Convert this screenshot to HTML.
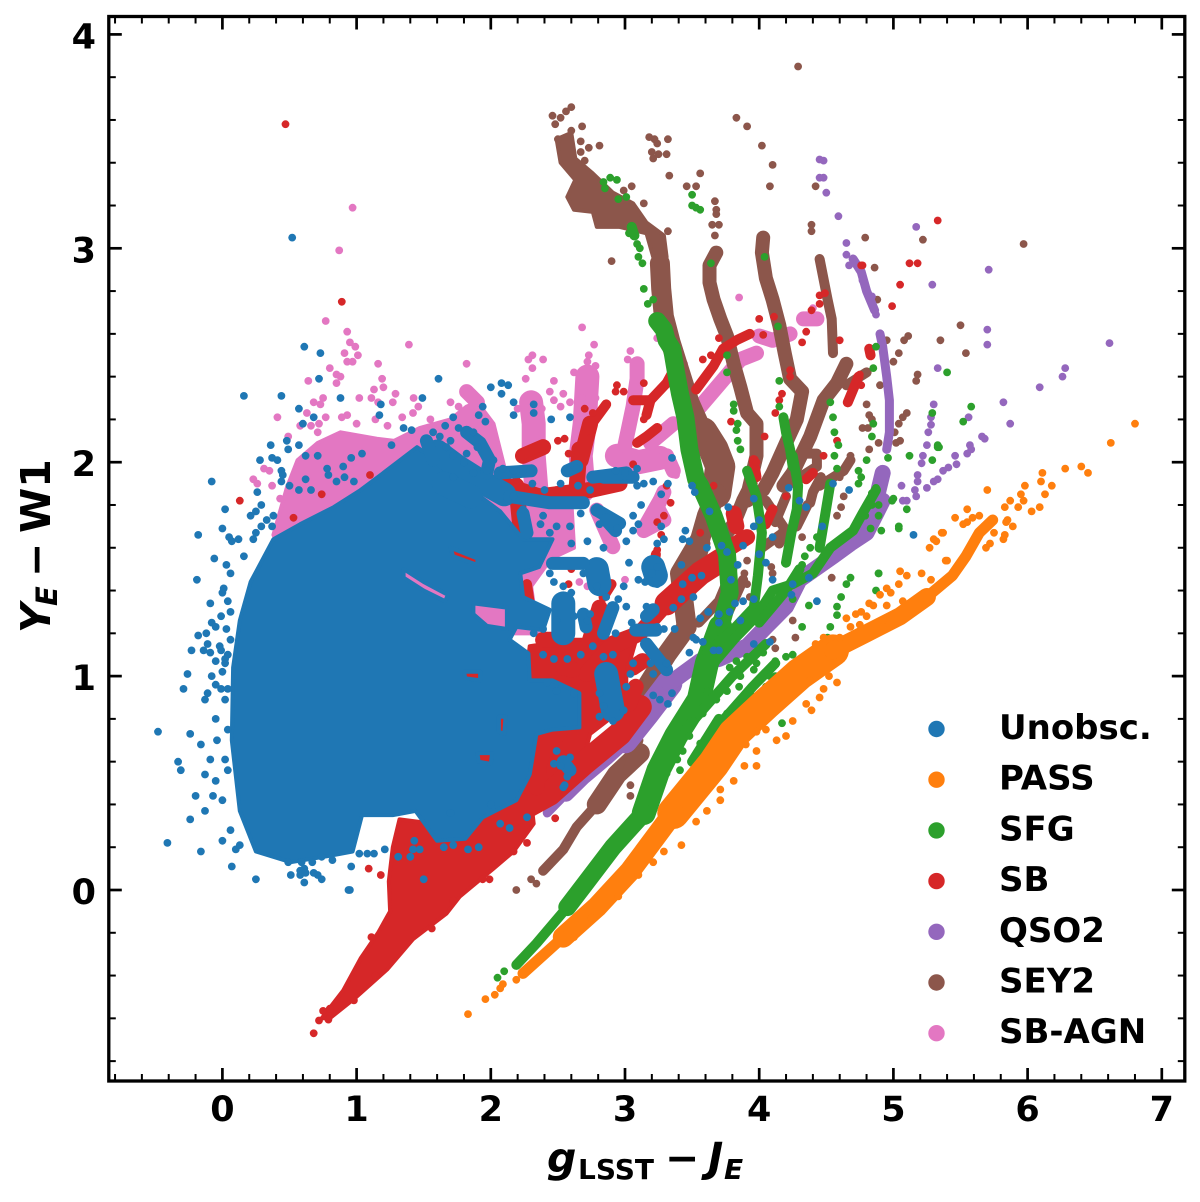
<!DOCTYPE html>
<html>
<head>
<meta charset="utf-8">
<title>g-J vs Y-W1 colour-colour diagram</title>
<style>
html,body{margin:0;padding:0;background:#fff;}
svg{display:block;}
text{font-family:"DejaVu Sans",sans-serif;font-weight:bold;fill:#000;}
</style>
</head>
<body>
<svg id="chart" xmlns="http://www.w3.org/2000/svg" width="1200" height="1202" viewBox="0 0 1200 1202">
<rect width="1200" height="1202" fill="#fff"/>
<g id="marks"></g>
<rect x="108.8" y="16.5" width="1076" height="1064.5" fill="none" stroke="#000" stroke-width="3.3"/>
<g id="ticks"></g>
<text y="1172" font-size="41"><tspan x="547" font-style="italic">g</tspan><tspan x="578" y="1179" font-size="28">LSST</tspan><tspan x="665" y="1172">−</tspan><tspan x="708" font-style="italic">J</tspan><tspan x="724" y="1179" font-size="28" font-style="italic">E</tspan></text>
<text transform="translate(50,633) rotate(-90)" font-size="41"><tspan x="0" y="0" font-style="italic">Y</tspan><tspan x="27" y="7" font-size="29" font-style="italic">E</tspan><tspan x="56" y="0">−</tspan><tspan x="100" y="0">W1</tspan></text>
<g id="legend"></g>
</svg>
<script>
const legendLabels=["Unobsc.","PASS","SFG","SB","QSO2","SEY2","SB-AGN"];
const xTicks=[0,1,2,3,4,5,6,7];
const yTicks=[0,1,2,3,4];
const xMinorTicks=[-0.8,-0.6,-0.4,-0.2,0.2,0.4,0.6,0.8,1.2,1.4,1.6,1.8,2.2,2.4,2.6,2.8,3.2,3.4,3.6,3.8,4.2,4.4,4.6,4.8,5.2,5.4,5.6,5.8,6.2,6.4,6.6,6.8];
const yMinorTicks=[-0.8,-0.6,-0.4,-0.2,0.2,0.4,0.6,0.8,1.2,1.4,1.6,1.8,2.2,2.4,2.6,2.8,3.2,3.4,3.6,3.8];

/* SB-AGN */
const agnDense=[[[.38,1.66],[.48,1.88],[.56,2.01],[.71,2.09],[.88,2.14],[1.15,2.11],[1.28,2.1],[1.47,2.16],[1.7,2.2],[1.82,2.26],[1.9,2.28],[2.02,2.18],[2.1,1.98],[2.3,1.7],[2.3,1.2],[1.5,1.2],[.5,1.5]],
[[2.22,1.82],[2.6,1.82],[2.62,1.6],[2.45,1.55],[2.3,1.42],[2.35,1.2],[2.1,1.2]]];
const agnWide=[[[2.3,2.28],[2.32,2.18],[2.32,2.03],[2.34,1.87]],[[2.72,2.4],[2.7,2.18],[2.67,2.03],[2.69,1.87]],[[2.94,2.03],[3.1,2],[3.26,2.02]]];
const agnMid=[[[3.09,2.46],[3.09,2.39],[3.06,2.26],[3,2.08]],[[3.19,2.09],[3.36,2.18]],[[3.56,2.26],[3.71,2.37],[3.86,2.48],[3.98,2.51]],[[4,2.59],[4.1,2.57],[4.23,2.6]],[[3.29,1.86],[3.24,1.79],[3.29,1.73],[3.14,1.68]],[[3.31,2.03],[3.36,1.96]],[[1.82,2.33],[1.9,2.28]],[[2.79,1.776],[2.91,1.605]],[[3.16,1.71],[3.26,1.82]],[[4.33,2.67],[4.43,2.67]]];
const agnPoints=[[.97,3.19],[.87,2.99],[.77,2.66],[.93,2.61],[.95,2.56],[.99,2.54],[.91,2.51],[1.01,2.5],[.93,2.47],[.97,2.47],[1.39,2.55],[1.16,2.46],[.8,2.44],[.85,2.41],[.88,2.4],[.64,2.38],[.85,2.37],[1.19,2.39],[1.2,2.35],[1.13,2.34],[1.02,2.3],[1.29,2.32],[1.27,2.28],[1.11,2.3],[1.16,2.28],[.68,2.28],[.73,2.27],[.75,2.3],[1.425,2.3],[1.46,2.26],[1.42,2.23],[.41,2.21],[.63,2.23],[.77,2.21],[.93,2.22],[.89,2.21],[1.14,2.2],[1.34,2.21],[1.82,2.46],[1.81,2.33],[2.31,2.5],[2.28,2.48],[2.31,2.44],[2.39,2.48],[2.26,2.39],[2.47,2.38],[2.77,2.55],[2.73,2.5],[2.44,2.33],[2.54,2.32],[2.47,2.29],[2.52,2.26],[2.59,2.28],[.31,1.97],[.35,1.96],[.23,1.92],[.26,1.9],[.37,1.89],[.43,1.83],[.49,2.12],[.58,2.17],[.66,2.17],[.72,2.18],[.71,2.14],[1,2.18],[1.23,2.17],[2.68,2.63],[3.85,2.77],[3.24,2.58],[3.04,2.52],[3.02,2.48],[2.62,2.42],[4.15,2.69],[4.4,2.72],[4.42,2.68],[3.38,1.94],[3.34,2.4],[3.44,2.46],[3.38,2.5],[2.72,2.47],[2.78,2.45],[2.68,2.3],[2.78,2.3],[2.2,2.25],[2.38,2.25],[1.7,2.28],[1.76,2.26],[1.55,2.2],[2.66,1.44],[2.72,1.42],[2.85,1.5],[3,1.45]];

/* SEY2 */
const seyDense=[[[2.49,3.51],[2.6,3.54],[2.63,3.42],[2.76,3.35],[2.91,3.26],[3.06,3.21],[3.16,3.12],[3.29,3.06],[3.31,2.96],[3.21,2.96],[3.16,3.07],[2.96,3.1],[2.79,3.1],[2.76,3.17],[2.62,3.18],[2.57,3.24],[2.63,3.32],[2.52,3.4]]];
const seyWide=[[[3.58,2.14],[3.66,2.06],[3.71,1.98],[3.68,1.855]]];
const seyMain=[[[3.26,2.93],[3.27,2.81],[3.29,2.68],[3.34,2.56],[3.41,2.42],[3.48,2.28],[3.58,2.14]],[[3.68,1.855],[3.61,1.75],[3.56,1.64],[3.41,1.48],[3.46,1.23],[3.31,1.1],[3.16,.95]],[[3.11,.64],[2.94,.54],[2.79,.4]]];
const seyMid=[[[3.68,2.98],[3.63,2.92],[3.63,2.84],[3.66,2.76],[3.71,2.67],[3.76,2.59],[3.81,2.46],[3.86,2.35],[3.91,2.23],[3.98,2.18],[3.98,2.03],[3.92,1.87],[3.88,1.82],[3.81,1.71],[3.76,1.67]],[[4.03,3.05],[4.02,2.98],[4.05,2.86],[4.1,2.76],[4.15,2.64],[4.19,2.51],[4.23,2.39],[4.32,2.33],[4.28,2.2],[4.2,2.09],[4.1,1.95],[4.03,1.87],[3.91,1.82]],[[4.65,2.46],[4.58,2.37],[4.48,2.29],[4.38,2.12],[4.25,1.95],[4.18,1.89]]];
const seyThin=[[[4.45,2.95],[4.51,2.76],[4.54,2.67],[4.55,2.51]],[[4.8,2.42],[4.65,2.36]],[[4.68,2.01],[4.63,1.96],[4.45,1.89]],[[4.3,2.04],[4.43,2.04],[4.43,1.98],[4.23,1.9]],[[4.46,1.93],[4.4,1.86],[4.38,1.81]],[[4.18,1.68],[4.15,1.62]],[[2.79,.4],[2.64,.295],[2.54,.19],[2.39,.09]],[[3.8,1.5],[3.7,1.35],[3.55,1.25]],[[3.88,1.45],[3.7,1.2]],[[4.05,1.82],[4.2,1.68],[4.02,1.6]],[[4.2,1.84],[4.12,1.72]],[[4.36,1.8],[4.28,1.7]],[[3.6,1.62],[3.5,1.4]],[[3.1,.7],[3.02,.56]]];
const seyPoints=[[4.29,3.85],[2.6,3.66],[2.56,3.64],[2.52,3.61],[2.46,3.62],[2.48,3.58],[2.68,3.57],[2.6,3.55],[2.5,3.51],[2.67,3.5],[2.73,3.47],[2.81,3.48],[2.67,3.45],[2.7,3.41],[3.18,3.52],[3.22,3.51],[3.24,3.49],[3.32,3.51],[3.2,3.45],[3.25,3.44],[3.31,3.44],[3.21,3.42],[3.33,3.34],[3.56,3.35],[3.46,3.29],[3.53,3.29],[3.83,3.61],[3.91,3.57],[4.02,3.48],[4.1,3.39],[4.08,3.29],[4.42,3.29],[4.39,3.11],[4.39,3.08],[4.79,3.05],[4.86,2.91],[4.88,2.76],[2.9,2.94],[3.32,3.08],[3.14,3.21],[2.99,3.27],[3.05,3.29],[5.22,3.04],[5.97,3.02],[5.5,2.64],[5.11,2.59],[5.08,2.57],[5.35,2.57],[4.95,2.57],[5.54,2.51],[5.04,2.51],[5,2.47],[5.18,2.41],[5.17,2.38],[4.9,2.36],[4.8,2.27],[5.1,2.23],[5.07,2.21],[5.04,2.18],[4.82,2.22],[4.84,2.2],[4.77,2.16],[4.81,2.16],[5.01,2.14],[5.05,2.1],[5.02,2.09],[4.89,2.09],[4.82,2.06],[4.68,2.03],[4.64,1.97],[4.6,1.93],[4.48,1.92],[4.63,1.84],[4.61,1.79],[4.58,1.75],[4.32,1.65],[4.09,1.51],[4.1,1.48],[4.54,1.46],[3.91,1.54],[3.89,1.48],[3.91,1.43],[3.93,1.37],[4.25,1.26],[4.27,1.18],[4.1,1.17],[4.12,1.13],[2.34,.03],[2.3,.05],[2.19,0],[3.04,.49],[3.04,.44],[3.67,3.22],[3.68,3.18],[3.68,3.16],[3.65,3.11],[3.7,3.11],[3.67,3.06]];

/* QSO2 */
const qsoWide=[[[3.33,.965],[3.16,.825],[3,.7]]];
const qsoMid=[[[4.92,1.82],[4.8,1.67],[4.68,1.62],[4.55,1.56],[4.3,1.45],[4.2,1.325],[4.05,1.23],[3.91,1.14],[3.7,1.08],[3.56,1.07],[3.33,.965]],[[3,.7],[2.86,.62],[2.69,.53],[2.56,.45]],[[4.92,1.95],[4.87,1.82]]];
const qsoThin=[[[4.9,2.6],[4.92,2.54],[4.95,2.4],[4.97,2.29],[4.97,2.14],[4.95,2.06]],[[2.56,.45],[2.42,.36]],[[4.7,2.95],[4.76,2.89],[4.8,2.8],[4.86,2.71]]];
const qsoPoints=[[5.17,3.1],[5.71,2.9],[5.29,2.83],[5.7,2.62],[5.7,2.55],[6.61,2.557],[5.33,2.44],[6.28,2.44],[6.26,2.4],[6.09,2.35],[5.82,2.28],[5.3,2.27],[5.56,2.21],[5.87,2.18],[5.28,2.21],[5.28,2.175],[5.26,2.14],[5.66,2.12],[5.68,2.11],[5.25,2.08],[5.57,2.08],[5.58,2.06],[5.55,2.04],[5.46,2.03],[5.47,1.99],[5.41,1.975],[5.37,1.96],[5.22,2.03],[5.21,1.995],[5.18,1.94],[5.18,1.91],[5.06,1.89],[5.16,1.87],[5.17,1.84],[5.1,1.82],[5.07,1.82],[5.25,1.88],[5.3,1.91],[5.33,1.92],[4.45,3.415],[4.48,3.41],[4.45,3.33],[4.48,3.33],[4.5,3.26],[4.59,3.15],[4.65,3.025],[4.65,2.97],[4.67,2.92],[4.77,2.85],[4.84,2.775],[4.87,2.69]];

/* SB */
const sbDense=[[[.74,-.6],[.9,-.47],[1.03,-.32],[1.16,-.2],[1.25,-.1],[1.24,.04],[1.27,.2],[1.32,.33],[1.7,.3],[2.12,.42],[2.3,.42],[2.32,.31],[2.17,.18],[2.02,.1],[1.77,-.03],[1.67,-.11],[1.42,-.23],[1.23,-.37],[.98,-.51],[.8,-.6]],
[[2.29,1.14],[2.61,1.17],[2.86,1.17],[3.11,1.23],[3.01,1.01],[3.01,.86],[2.74,.73],[2.66,.54],[2.36,.42],[2.14,.4]]];
const sbWide=[[[2.12,.34],[2.44,.45],[2.69,.59],[2.96,.73],[3.11,.856]],[[3.31,1.34],[3.56,1.48],[3.71,1.54]]];
const sbMid=[[[2.71,1.01],[2.88,1.13],[3.11,1.2],[3.31,1.34]],[[2.34,.48],[2.36,.59],[2.41,.68],[2.51,.73]],[[3.06,1.04],[3.13,1.07]],[[3.03,.87],[3.08,.95]],[[2.39,1.17],[2.49,1.17]],[[2.54,1.04],[2.61,1.03]],[[2.81,1.32],[2.74,1.17]],[[3.78,1.6],[3.91,1.65]],[[3.81,1.76],[3.83,1.7]],[[2.07,1.9],[2.36,1.84],[2.74,1.87],[2.96,1.9]],[[2.66,2.06],[2.64,1.886]],[[2.74,2.18],[2.67,2.01]],[[2.24,2.03],[2.39,2.07]],[[1.8,1],[1.93,1]],[[2.08,.83],[2.08,.7]],[[1.89,.62],[2.02,.62]],[[1.7,1.59],[1.9,1.53]],[[2.19,1.89],[2.22,1.7]]];
const sbThin=[[[2.9,1.43],[2.84,1.37]],[[3.23,1.57],[3.21,1.48]],[[2.72,2.15],[2.86,2.27]],[[1.72,1.85],[1.85,1.88]],[[3.09,2.09],[3.16,2.12],[3.24,2.16]],[[3.06,2.29],[3.19,2.29],[3.16,2.22]],[[3.19,2.29],[3.31,2.37],[3.38,2.45]],[[3.53,2.34],[3.66,2.45],[3.73,2.53],[3.83,2.57],[3.93,2.6]],[[3.96,2.01],[3.98,1.93]],[[4.1,1.78],[4.05,1.71]],[[4.4,1.95],[4.35,1.92]],[[4.82,2.53],[4.83,2.5]],[[4.74,2.4],[4.66,2.28]],[[2.22,2.03],[2.39,2.08]],[[2.27,1.43],[2.3,1.3]]];
const sbPoints=[[.47,3.58],[.89,2.75],[.13,1.82],[1.1,1.94],[.74,1.85],[.53,1.74],[.68,-.67],[.72,-.61],[.79,-.606],[.75,-.565],[.8,-.555],[.98,-.516],[1.14,-.4],[1.11,-.22],[1.56,-.18],[1.72,-.05],[1.09,.1],[1.18,.07],[1.99,.05],[1.94,.05],[2.17,.18],[2.27,.22],[2.48,.335],[2.94,2.36],[2.93,2.33],[2.99,2.33],[2.76,2.23],[2.7,2.25],[2.5,2.1],[2.55,2.11],[2.58,2.04],[3.14,2.2],[3.14,2.37],[3.58,2.48],[3.64,2.5],[3.7,2.58],[4,2.67],[4.03,2.595],[4.11,2.68],[4.23,2.43],[4.23,2.4],[4.17,2.32],[4.15,2.29],[4.12,2.23],[3.79,2.19],[4.32,2.56],[4.35,2.61],[4.39,2.71],[4.45,2.78],[4.45,2.74],[4.49,2.79],[4.6,2.57],[4.76,2.92],[4.99,2.73],[5.05,2.83],[4.58,2.1],[4.48,2.03],[4.04,2.12],[3.98,2],[3.96,1.9],[5.33,3.13],[5.12,2.93],[5.18,2.93],[4.77,2.92],[4.75,2.41],[4.76,2.36],[3.24,1.59],[3.31,1.89],[3.29,1.75],[3.34,1.81],[3.56,1.67],[3.66,1.89],[4.2,1.84],[2.49,1.87],[2.81,1.86],[3.06,1.99],[2.19,1.92],[2.58,1.43],[2.6,1.5],[3.24,1.72],[3.27,1.66]];

/* SFG */
const sfgWide=[[[3.71,1.23],[3.61,1.06],[3.55,.89],[3.38,.72],[3.25,.56],[3.14,.36]]];
const sfgMid=[[[3.24,2.66],[3.29,2.62],[3.31,2.57],[3.35,2.53],[3.38,2.42],[3.41,2.32],[3.45,2.21],[3.48,2.06],[3.53,1.92],[3.56,1.89],[3.66,1.75],[3.76,1.57],[3.78,1.39],[3.71,1.23]],[[3.14,.36],[2.91,.2],[2.74,.06],[2.57,-.08]]];
const sfgThin=[[[2.57,-.08],[2.34,-.25],[2.19,-.35]],[[3.91,1.96],[3.98,1.84],[4.02,1.67],[3.99,1.47],[3.96,1.32],[3.81,1.22],[3.61,1.11]],[[4.25,2.03],[4.29,1.89],[4.28,1.78],[4.24,1.67],[4.2,1.53]],[[4.53,1.9],[4.49,1.75],[4.45,1.6]],[[4.87,1.87],[4.77,1.76],[4.7,1.68],[4.53,1.6],[4.4,1.48],[4.25,1.43],[4.1,1.4],[3.98,1.28],[3.81,1.17],[3.66,1.06]],[[4.18,2.21],[4.2,2.14],[4.23,2.06],[4.25,1.98]],[[3.05,3.1],[3.07,3.06]],[[3.45,.75],[3.8,1],[4.05,1.15]],[[3.6,.7],[3.95,.95],[4.12,1.06]],[[3.78,.78],[3.95,.9]],[[3.5,.6],[3.7,.8]],[[4,1.25],[4.2,1.4],[4.3,1.5]]];
const sfgPoints=[[2.89,3.33],[2.94,3.32],[2.84,3.31],[2.85,3.28],[2.95,3.23],[3.01,3.24],[3.03,3.07],[3.09,3.02],[3.11,3],[3.1,2.96],[3.13,2.93],[3.14,2.81],[3.21,2.76],[3.17,2.74],[3.5,3.25],[3.5,3.2],[3.53,3.19],[3.56,3.18],[3.81,2.27],[3.81,2.24],[3.84,2.18],[3.83,2.15],[3.84,2.1],[3.86,2.06],[4.43,1.65],[4.38,1.6],[4.34,1.56],[4.32,1.52],[4.29,1.48],[4.25,1.36],[4.37,1.33],[4.32,1.23],[4.53,1.23],[4.51,1.18],[4.58,1.325],[4.58,1.285],[4.61,1.37],[4.65,1.43],[4.68,1.46],[4.89,1.48],[5.04,1.7],[5.1,1.78],[5,1.83],[4.91,1.68],[4.96,2.02],[4.8,2.01],[4.58,1.97],[4.74,1.96],[4.76,1.93],[4.74,1.9],[4.56,2.03],[5.12,2.03],[5.29,2.01],[5.33,2.07],[5.29,2.23],[4.2,1.09],[4.25,1.1],[4.12,1.07],[4.03,1.11],[3.98,1.06],[3.96,1.03],[4.12,1],[4.08,1],[4.05,.95],[4,.9],[3.91,.89],[3.76,.93],[3.68,.89],[3.76,.825],[3.73,.79],[3.58,.825],[3.61,.93],[3.78,1.04],[3.86,1],[3.83,1.07],[3.91,1.09],[3.51,.79],[3.48,.72],[3.43,.65],[3.39,.61],[3.31,.545],[3.56,.685],[3.41,.56],[4.17,.78],[4.15,2.38],[4.15,2.26],[4.19,2.18],[4.14,2.635],[4.04,2.96],[3.64,2.93],[3.76,2.5],[3.76,2.42],[4.55,2.21],[4.56,2.14],[4.59,2.08],[4.53,2.28],[4.85,2.18],[4.84,2.12],[4.85,2.44],[4.87,2.54],[5.4,2.42],[5.58,2.26],[5.52,2.19],[5.33,2.08],[5.34,2.07],[4.87,1.88],[4.84,1.855],[4.84,1.8],[4.89,1.8],[4.89,1.75],[4.99,1.82],[4.79,1.75],[4.83,1.69],[5.04,1.69],[4.89,1.48],[4.87,1.4],[2.05,-.41],[2.1,-.38],[3.85,.95],[3.95,.95],[3.68,.7],[3.55,.55],[3.62,.62],[3.46,.45],[3.3,.3]];

/* PASS */
const passWide=[[[3.36,.36],[3.66,.59],[3.81,.73],[4.05,.87],[4.3,1.01],[4.55,1.12]]];
const passLower=[[[2.54,-.22],[2.79,-.08],[3.04,.09],[3.36,.36]]];
const passMid=[[[4.55,1.12],[4.8,1.2],[5.05,1.28],[5.25,1.37]]];
const passThin=[[[2.24,-.39],[2.54,-.22]],[[5.25,1.37],[5.44,1.47],[5.54,1.56],[5.64,1.67],[5.74,1.73]]];
const passPoints=[[6.8,2.18],[6.62,2.09],[6.4,1.98],[6.45,1.95],[6.28,1.97],[6.11,1.95],[6.1,1.91],[6.18,1.89],[5.98,1.89],[6.13,1.85],[5.95,1.85],[5.97,1.82],[5.87,1.82],[5.93,1.79],[5.83,1.79],[6.09,1.79],[6.03,1.77],[5.7,1.87],[5.55,1.78],[5.46,1.74],[5.59,1.74],[5.64,1.75],[5.52,1.71],[5.55,1.72],[5.85,1.73],[5.84,1.72],[5.89,1.7],[5.75,1.67],[5.83,1.66],[5.82,1.64],[5.72,1.62],[5.69,1.6],[5.37,1.67],[5.32,1.63],[5.27,1.6],[5.4,1.54],[5.05,1.49],[5.1,1.47],[5.21,1.48],[5.28,1.45],[5.04,1.43],[5.39,1.54],[5.3,1.64],[5.36,1.67],[4.95,1.41],[4.9,1.38],[4.82,1.34],[4.98,1.39],[5.07,1.35],[4.72,1.29],[4.8,1.28],[4.68,1.23],[4.92,1.26],[4.6,1.18],[4.58,.97],[4.48,.94],[4.45,.9],[4.35,.87],[4.39,.84],[4.25,.79],[4.2,.72],[4.13,.7],[4.05,.75],[3.98,.65],[3.98,.58],[3.89,.58],[3.81,.51],[3.71,.47],[3.42,.21],[3.29,.18],[3.21,.13],[3.1,.07],[2.95,-.03],[2.75,-.13],[2.62,-.22],[2.19,-.42],[2.09,-.44],[2.07,-.46],[2.03,-.49],[1.96,-.51],[1.83,-.58],[3.61,.37],[3.71,.42],[3.53,.32],[4.76,1.3],[4.85,1.33],[4.65,1.27],[4.95,1.33],[4.75,1.24],[4.42,1.15],[4.48,1.18],[4.38,.98],[4.52,1],[3.9,.68],[3.98,.74]];

/* Unobsc. */
const unobscDense=[[[.08,1.04],[.13,1.26],[.21,1.44],[.38,1.64],[.58,1.71],[.83,1.79],[1.03,1.87],[1.2,1.95],[1.45,2.07],[1.59,2.01],[1.7,1.95],[1.9,1.85],[2.07,1.77],[2.24,1.64],[2.46,1.64],[2.36,1.51],[2.22,1.48],[2.24,1.37],[2.44,1.31],[2.39,1.215],[2.19,1.23],[2.14,1.17],[2.28,1.106],[2.29,.98],[2.46,.98],[2.66,.92],[2.66,.76],[2.46,.75],[2.34,.73],[2.29,.54],[2.19,.42],[1.94,.34],[1.81,.24],[1.6,.23],[1.44,.37],[1.27,.35],[1.04,.35],[.97,.18],[.8,.16],[.51,.13],[.25,.18],[.13,.37],[.07,.7]]];
const unobscHoles=[[[1.87,1.34],[2.12,1.32],[2.12,1.22],[1.97,1.235],[1.87,1.29]],[[1.35,1.5],[1.5,1.44],[1.68,1.38],[1.66,1.35],[1.5,1.4],[1.35,1.46]],[[1.8,1.02],[1.92,1.02],[1.92,.98],[1.81,.99]],[[2.06,.81],[2.11,.81],[2.1,.73],[2.06,.74]],[[1.9,.64],[2.01,.64],[2,.59],[1.91,.6]],[[1.7,1.6],[1.9,1.55],[1.9,1.52],[1.72,1.56]]];
const unobscWide=[[[2.86,1.01],[2.91,.84]],[[2.79,1.5],[2.81,1.43]],[[3.21,1.51],[3.23,1.47]],[[2.54,1.34],[2.54,1.2]],[[1.6,2.05],[1.75,1.98],[1.9,1.92],[2.1,1.85]],[[1.65,1.9],[1.85,1.84]]];
const unobscMid=[[[2.14,1.84],[2.44,1.81],[2.69,1.81]],[[2.24,1.76],[2.27,1.67]],[[2.79,1.776],[2.96,1.714]],[[2.46,1.527],[2.69,1.527]],[[2.69,1.29],[2.71,1.23]],[[2.84,1.2],[2.91,1.32]],[[3.21,1.31],[3.16,1.28]],[[3.08,1.215],[3.23,1.215]],[[3.16,1.15],[3.31,1.03]],[[2.54,.6],[2.59,.56]],[[2.84,1.93],[3.06,1.93]],[[2.86,1.73],[2.93,1.68]],[[2.07,1.95],[2.3,1.96]],[[2.57,1.96],[2.64,1.98]],[[2.76,1.93],[3.01,1.95]],[[1.82,2.14],[1.92,2.09],[1.99,2.01],[1.97,1.95]],[[1.52,2.1],[1.57,2.01]]];
const unobscPoints=[[.52,3.05],[.61,2.54],[.73,2.51],[.72,2.39],[.88,2.3],[1.18,2.27],[1.17,2.22],[1.49,2.3],[1.61,2.39],[.16,2.31],[.44,2.31],[.57,2.25],[.68,2.21],[.6,2.18],[2,2.35],[2.08,2.37],[2.08,2.32],[2.13,2.36],[2.17,2.28],[2.32,2.27],[2.32,2.23],[2.17,2.22],[2.45,2.2],[2.59,2.21],[1.94,2.26],[1.91,2.22],[1.96,2.19],[1.72,2.21],[1.66,2.17],[1.76,2.16],[1.87,2.14],[1.35,2.16],[1.41,2.15],[1.26,2.08],[.36,2.08],[.48,2.1],[.49,2.06],[.57,2.08],[.28,2.01],[.37,2.02],[.41,2.01],[.62,2.03],[.71,2.03],[.96,2.02],[1.04,2.04],[.78,1.97],[.9,1.98],[.79,1.94],[.91,1.93],[.85,1.91],[.98,1.91],[-.08,1.91],[.44,1.96],[.45,1.94],[.44,1.91],[.5,1.89],[.26,1.86],[.62,1.92],[.57,1.87],[.66,1.87],[.29,1.8],[.02,1.78],[.21,1.75],[.25,1.77],[0,1.69],[-.18,1.66],[.29,1.7],[.05,1.65],[.12,1.64],[.07,1.63],[.23,1.64],[.25,1.67],[.33,1.73],[.38,1.75],[.37,1.7],[-.06,1.55],[.03,1.52],[.06,1.48],[-.19,1.45],[.16,1.56],[0,1.39],[.01,1.41],[-.09,1.34],[.04,1.35],[-.01,1.28],[.06,1.3],[-.08,1.25],[-.05,1.23],[-.18,1.19],[-.12,1.2],[.03,1.22],[-.11,1.15],[-.14,1.12],[-.23,1.12],[-.09,1.11],[-.02,1.14],[.04,1.1],[-.05,1.07],[.02,1.06],[-.26,1.01],[-.08,1],[0,1.02],[-.05,.96],[-.29,.94],[-.11,.92],[-.48,.74],[-.33,.6],[-.31,.56],[-.2,.44],[-.41,.22],[-.24,.33],[-.16,.18],[.07,.11],[.25,.05],[.58,.07],[.71,.07],[.95,0],[.61,.1],[.51,.07],[-.13,.89],[-.05,.8],[-.09,.61],[0,.42],[.02,.61],[-.05,.51],[-.13,.37],[0,.23],[.1,.19],[-.24,.73],[-.07,.44],[.06,.28],[.13,.21],[-.04,.7],[-.01,.94],[-.16,.68],[-.13,.54],[.02,.89],[.04,.75],[.04,.56],[.02,1.08],[.04,.94],[-.01,1.12],[.06,1.17],[3.12,1.8],[3.06,1.75],[3.06,1.68],[3.1,1.71],[3.27,1.7],[3.29,1.64],[3.24,1.62],[3.01,1.63],[3.45,1.68],[3.43,1.64],[3.48,1.63],[3.42,1.52],[3.5,1.89],[3.52,1.86],[3.21,1.91],[3.32,1.9],[3.27,1.85],[3.35,2.02],[3.63,1.77],[3.77,1.79],[3.96,1.83],[4.22,1.88],[4.3,1.82],[4.35,1.79],[4.47,1.7],[4.55,1.9],[4.67,1.87],[5.15,1.66],[4.1,1.65],[4,1.73],[3.96,1.7],[3.88,1.61],[3.76,1.58],[4,1.57],[3.72,1.61],[3.61,1.6],[3.84,1.52],[4.05,1.53],[3.79,1.45],[4.1,1.45],[4.25,1.43],[3.96,1.36],[3.88,1.35],[3.82,1.34],[4.24,1.38],[4.43,1.35],[4.37,1.46],[3.78,1.3],[3.7,1.29],[3.7,1.25],[3.86,1.26],[3.56,1.27],[3.62,1.3],[3.96,1.15],[4.08,1.16],[3.7,1.12],[3.66,1.12],[3.53,1.17],[3.58,1.16],[3.51,1.18],[3.51,1.37],[3.42,1.36],[3.5,1.46],[3.57,1.47],[3.36,1.32],[3.37,1.22],[3.48,1.11],[3.21,.91],[3.35,.92],[3.15,1.44],[3.1,1.45],[3.43,1.43],[3.24,1.51],[3.2,1.48],[3.24,1.43],[2.55,.49],[2.57,.53],[3.26,.89],[3.32,.87],[2.07,.31],[2.14,.29],[2.27,.34],[1.83,.19],[1.91,.2],[1.72,.21],[1.65,.2],[1.47,.19],[1.42,.19],[1.43,.23],[1.4,.155],[1.31,.155],[1.21,.19],[1.5,.05],[1.02,.17],[1.08,.17],[1.13,.17],[.96,.11],[.94,0],[.74,.05],[.68,.08],[.61,.035],[.58,.09],[.62,.08],[.67,.13],[.59,.13],[.49,.13],[.82,.14],[.74,.155],[1.7,.36],[2,.4],
[2.09,1.97],[2.17,1.96],[2.24,1.96],[2.31,1.9],[2.4,1.87],[2.52,1.9],[2.58,1.96],[2.64,1.97],[2.74,1.87],[2.65,1.89],[2.93,1.96],[3,1.95],[3.09,1.97],[3.14,1.9],[3.09,1.89],[2.17,1.84],[2.24,1.78],[2.39,1.75],[2.49,1.7],[2.59,1.7],[2.44,1.67],[2.37,1.71],[2.67,1.76],[2.79,1.79],[2.81,1.71],[2.94,1.69],[2.72,1.63],[2.84,1.6],[2.6,1.62],[2.44,1.48],[2.47,1.44],[2.54,1.42],[2.6,1.39],[2.69,1.48],[2.79,1.42],[2.86,1.37],[2.99,1.42],[3.03,1.53],[3.16,1.325],[3.01,1.325],[2.95,1.36],[2.39,1.22],[2.32,1.2],[2.49,1.26],[2.62,1.28],[2.72,1.26],[2.74,1.29],[2.91,1.29],[2.93,1.2],[3.05,1.25],[3.11,1.22],[3.24,1.23],[3.29,1.22],[2.39,1.1],[2.47,1.08],[2.57,1.08],[2.67,1.1],[2.76,1.14],[2.84,1.09],[2.91,1.1],[3.06,1.06],[3.19,1.06],[3.21,1.01],[3.31,1.06],[3.04,1.01],[3.01,.95],[2.42,.97],[2.49,.93],[2.62,.92],[2.81,.92],[2.84,.86],[2.99,.84],[2.91,.79],[2.81,.81],[2.49,.65],[2.52,.58],[2.59,.62],[2.47,.59],[2.54,.48],[1.67,2.07],[1.72,2.03],[1.8,2],[1.82,2.04],[1.9,2.07],[1.97,1.96],[1.72,1.93],[2.02,2.01],[1.87,1.95],[1.57,2.14],[1.62,2.12],[1.7,2.1]];

const xScale=v=>222.4+v*134.2;
const yScale=v=>890-v*213.9;
const NS="http://www.w3.org/2000/svg";
const marks=document.getElementById("marks");
const ticks=document.getElementById("ticks");
const legend=document.getElementById("legend");
const dotR=3.9;

function toPath(list){return list.map((p,i)=>(i?"L":"M")+xScale(p[0]).toFixed(1)+" "+yScale(p[1]).toFixed(1)).join("");}
function drawAreas(list,color,name,holes){
  list.forEach(poly=>{
    const el=document.createElementNS(NS,"path");
    el.setAttribute("d",toPath(poly)+"Z"+(holes||[]).map(h=>toPath(h)+"Z").join(""));
    el.setAttribute("fill",color);
    el.setAttribute("fill-rule","evenodd");
    el.setAttribute("stroke",color);
    el.setAttribute("stroke-width","4");
    el.setAttribute("stroke-linejoin","round");
    
    
    marks.appendChild(el);
  });
}
function drawTracks(list,width,color,name){
  list.forEach(track=>{
    const el=document.createElementNS(NS,"path");
    el.setAttribute("d",toPath(track));
    el.setAttribute("fill","none");
    el.setAttribute("stroke",color);
    el.setAttribute("stroke-width",width);
    el.setAttribute("stroke-linecap","round");
    el.setAttribute("stroke-linejoin","round");
    
    
    marks.appendChild(el);
  });
}
function drawDots(list,color,name){
  list.forEach(p=>{
    const el=document.createElementNS(NS,"circle");
    el.setAttribute("cx",xScale(p[0]).toFixed(1));
    el.setAttribute("cy",yScale(p[1]).toFixed(1));
    el.setAttribute("r",dotR);
    el.setAttribute("fill",color);
    
    
    marks.appendChild(el);
  });
}
const cAgn="#e377c2",cSey="#8c564b",cQso="#9467bd",cSb="#d62728",cSfg="#2ca02c",cPass="#ff7f0e",cUn="#1f77b4";

drawAreas(agnDense,cAgn,"sb-agn-dense-region");
drawTracks(agnWide,24,cAgn,"sb-agn-track");
drawTracks(agnMid,15,cAgn,"sb-agn-track");
drawDots(agnPoints,cAgn,"sb-agn-point");

drawAreas(seyDense,cSey,"sey2-dense-region");
drawTracks(seyWide,30,cSey,"sey2-track");
drawTracks(seyMain,20,cSey,"sey2-track");
drawTracks(seyMid,14,cSey,"sey2-track");
drawTracks(seyThin,10,cSey,"sey2-track");
drawDots(seyPoints,cSey,"sey2-point");

drawTracks(qsoWide,26,cQso,"qso2-track");
drawTracks(qsoMid,16,cQso,"qso2-track");
drawTracks(qsoThin,9,cQso,"qso2-track");
drawDots(qsoPoints,cQso,"qso2-point");

drawAreas(sbDense,cSb,"sb-dense-region");
drawTracks(sbWide,24,cSb,"sb-track");
drawTracks(sbMid,16,cSb,"sb-track");
drawTracks(sbThin,10,cSb,"sb-track");
drawDots(sbPoints,cSb,"sb-point");

drawTracks(sfgWide,24,cSfg,"sfg-track");
drawTracks(sfgMid,18,cSfg,"sfg-track");
drawTracks(sfgThin,10,cSfg,"sfg-track");
drawDots(sfgPoints,cSfg,"sfg-point");

drawTracks(passWide,32,cPass,"pass-track");
drawTracks(passLower,21,cPass,"pass-track");
drawTracks(passMid,18,cPass,"pass-track");
drawTracks(passThin,11,cPass,"pass-track");
drawDots(passPoints,cPass,"pass-point");

drawAreas(unobscDense,cUn,"unobsc-dense-region",unobscHoles);
drawTracks(unobscWide,24,cUn,"unobsc-track");
drawTracks(unobscMid,13,cUn,"unobsc-track");
drawDots(unobscPoints,cUn,"unobsc-point");

function tickLine(x1,y1,x2,y2,w,name){
  const el=document.createElementNS(NS,"line");
  el.setAttribute("x1",x1);
  el.setAttribute("y1",y1);
  el.setAttribute("x2",x2);
  el.setAttribute("y2",y2);
  el.setAttribute("stroke","#000");
  el.setAttribute("stroke-width",w);
  
  
  ticks.appendChild(el);
}
function label(x,y,str,anchor,name){
  const el=document.createElementNS(NS,"text");
  el.setAttribute("x",x);
  el.setAttribute("y",y);
  el.setAttribute("font-size","35");
  el.setAttribute("text-anchor",anchor);
  
  
  el.textContent=str;
  ticks.appendChild(el);
}
const L=108.8,R=1184.8,T=16.5,B=1081;
xTicks.forEach(v=>{
  const x=xScale(v);
  tickLine(x,B,x,B-13,2.7,"x-major-tick");
  tickLine(x,T,x,T+13,2.7,"x-major-tick-top");
  label(x,1121,String(v),"middle","x-tick-label");
});
yTicks.forEach(v=>{
  const y=yScale(v);
  tickLine(L,y,L+13,y,2.7,"y-major-tick");
  tickLine(R,y,R-13,y,2.7,"y-major-tick-right");
  label(96,y+14,String(v),"end","y-tick-label");
});
xMinorTicks.forEach(v=>{
  const x=xScale(v);
  tickLine(x,B,x,B-7,2,"x-minor-tick");
  tickLine(x,T,x,T+7,2,"x-minor-tick-top");
});
yMinorTicks.forEach(v=>{
  const y=yScale(v);
  tickLine(L,y,L+7,y,2,"y-minor-tick");
  tickLine(R,y,R-7,y,2,"y-minor-tick-right");
});

const legendColors=[cUn,cPass,cSfg,cSb,cQso,cSey,cAgn];
legendLabels.forEach((t,i)=>{
  const cy=729+i*50.7;
  const m=document.createElementNS(NS,"circle");
  m.setAttribute("cx",936.5);
  m.setAttribute("cy",cy);
  m.setAttribute("r",8.2);
  m.setAttribute("fill",legendColors[i]);
  
  
  legend.appendChild(m);
  const tx=document.createElementNS(NS,"text");
  tx.setAttribute("x",999);
  tx.setAttribute("y",cy+10);
  tx.setAttribute("font-size","34");
  
  
  tx.textContent=t;
  legend.appendChild(tx);
});
</script>
</body>
</html>
